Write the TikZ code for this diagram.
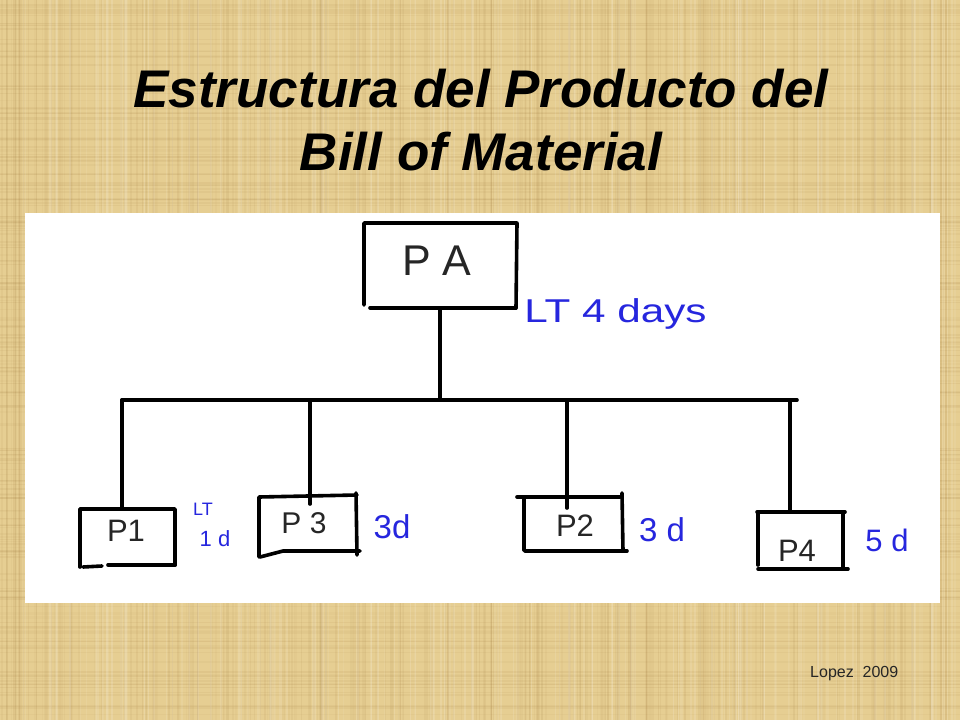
\documentclass[tikz,border=0pt]{standalone}
\usepackage{fontspec}
\setmainfont{Liberation Sans}
\definecolor{parch}{RGB}{230,206,146}
\definecolor{parchdark}{RGB}{150,110,50}
\definecolor{inkblue}{RGB}{38,38,222}
\begin{document}
\begin{tikzpicture}[x=1pt,y=-1pt,
  hand/.style={line width=3.6pt, line cap=round, line join=round, black},
  slot/.style={draw=none, inner sep=0pt, outer sep=0pt},
  titletext/.style={font=\fontsize{53}{60}\selectfont\bfseries\itshape, inner sep=0pt, anchor=base},
  plabel/.style={inner sep=0pt, text=black!85},
  bluelabel/.style={inner sep=0pt, text=inkblue}]
\useasboundingbox (0,0) rectangle (960,720);
% parchment background
\fill[parch] (0,0) rectangle (960,720);
\pgfmathsetseed{11}
\foreach \i in {1,...,260}{
  \pgfmathsetmacro\xx{rnd*955}
  \pgfmathsetmacro\ww{0.6+rnd*2}
  \pgfmathsetmacro\op{0.03+rnd*0.07}
  \fill[parchdark, opacity=\op] (\xx,0) rectangle ++(\ww,720);
}
\foreach \i in {1,...,200}{
  \pgfmathsetmacro\yy{rnd*715}
  \pgfmathsetmacro\hh{0.6+rnd*2}
  \pgfmathsetmacro\op{0.03+rnd*0.06}
  \fill[parchdark, opacity=\op] (0,\yy) rectangle ++(960,\hh);
}
\foreach \i in {1,...,160}{
  \pgfmathsetmacro\xx{rnd*955}
  \pgfmathsetmacro\ww{0.6+rnd*2}
  \pgfmathsetmacro\op{0.05+rnd*0.10}
  \fill[white, opacity=\op] (\xx,0) rectangle ++(\ww,720);
}
% title
\node[titletext] (t1) at (481,107) {Estructura del Producto del};
\node[titletext] (t2) at (481,170) {Bill of Material};
% white panel
\fill[white] (25,213) rectangle (940,603);
% invisible box slots
\node[slot, minimum width=152pt, minimum height=86pt] (pa) at (440,265) {};
\node[slot, minimum width=95pt, minimum height=57pt] (p1) at (127.5,537.5) {};
\node[slot, minimum width=100pt, minimum height=57pt] (p3) at (307,524.5) {};
\node[slot, minimum width=99pt, minimum height=54pt] (p2) at (572.5,524) {};
\node[slot, minimum width=86pt, minimum height=57pt] (p4) at (801,540.5) {};
% hand-drawn boxes
\draw[hand] (364,305) -- (364,223) -- (517,223) -- (516,308);
\draw[hand] (370,308) -- (516,308);
\draw[hand] (80,567) -- (80,509) -- (175,509) -- (175,565);
\draw[hand] (83,567) -- (102,566);
\draw[hand] (108,565) -- (175,565);
\draw[hand] (259,557) -- (259,497) -- (357,495);
\draw[hand] (356,493) -- (357,555);
\draw[hand] (260,557) -- (283,551) -- (360,551);
\draw[hand] (517,497) -- (620,497);
\draw[hand] (524,498) -- (524,550);
\draw[hand] (622,493) -- (623,551);
\draw[hand] (525,551) -- (627,551);
\draw[hand] (757,512) -- (845,512);
\draw[hand] (758,512) -- (758,565);
\draw[hand] (843,512) -- (843,569);
\draw[hand] (758,569) -- (848,569);
% connectors
\coordinate (hub) at (440,400);
\coordinate (barL) at (122,400);
\coordinate (barR) at (797,400);
\coordinate (b3) at (310,400);
\coordinate (b2) at (567,400);
\coordinate (b4) at (790,400);
\draw[hand] (pa.south) -- (hub);
\draw[hand] (barL) -- (barR);
\draw[hand] (barL) -- (barL |- p1.north);
\draw[hand] (b3) -- ([yshift=-8pt] b3 |- p3.north);
\draw[hand] (b2) -- ([yshift=-11pt] b2 |- p2.north);
\draw[hand] (b4) -- (b4 |- p4.north);
% box labels
\node[plabel, font=\fontsize{43}{45}\selectfont] (tpa) at (437,261) {P A};
\node[plabel, font=\fontsize{31}{33}\selectfont] (tp1) at (126,531) {P1};
\node[plabel, font=\fontsize{30}{32}\selectfont] (tp3) at (304,523) {P 3};
\node[plabel, font=\fontsize{31}{33}\selectfont] (tp2) at (575,526) {P2};
\node[plabel, font=\fontsize{31}{33}\selectfont] (tp4) at (797,551) {P4};
% lead times
\node[bluelabel, font=\fontsize{33}{35}\selectfont, xscale=1.28, anchor=base west] (lpa) at (524,322) {LT 4 days};
\node[bluelabel, font=\fontsize{18}{20}\selectfont] (lp1a) at (203,509) {LT};
\node[bluelabel, font=\fontsize{22}{24}\selectfont] (lp1b) at (215,539) {1 d};
\node[bluelabel, font=\fontsize{33}{35}\selectfont] (lp3) at (392,527) {3d};
\node[bluelabel, font=\fontsize{33}{35}\selectfont] (lp2) at (662,530) {3 d};
\node[bluelabel, font=\fontsize{31}{33}\selectfont] (lp4) at (887,540) {5 d};
% credit
\node[inner sep=0pt, anchor=base west, text=black!85, font=\fontsize{16}{18}\selectfont] (credit) at (810,677) {Lopez\ \ 2009};
\end{tikzpicture}
\end{document}
